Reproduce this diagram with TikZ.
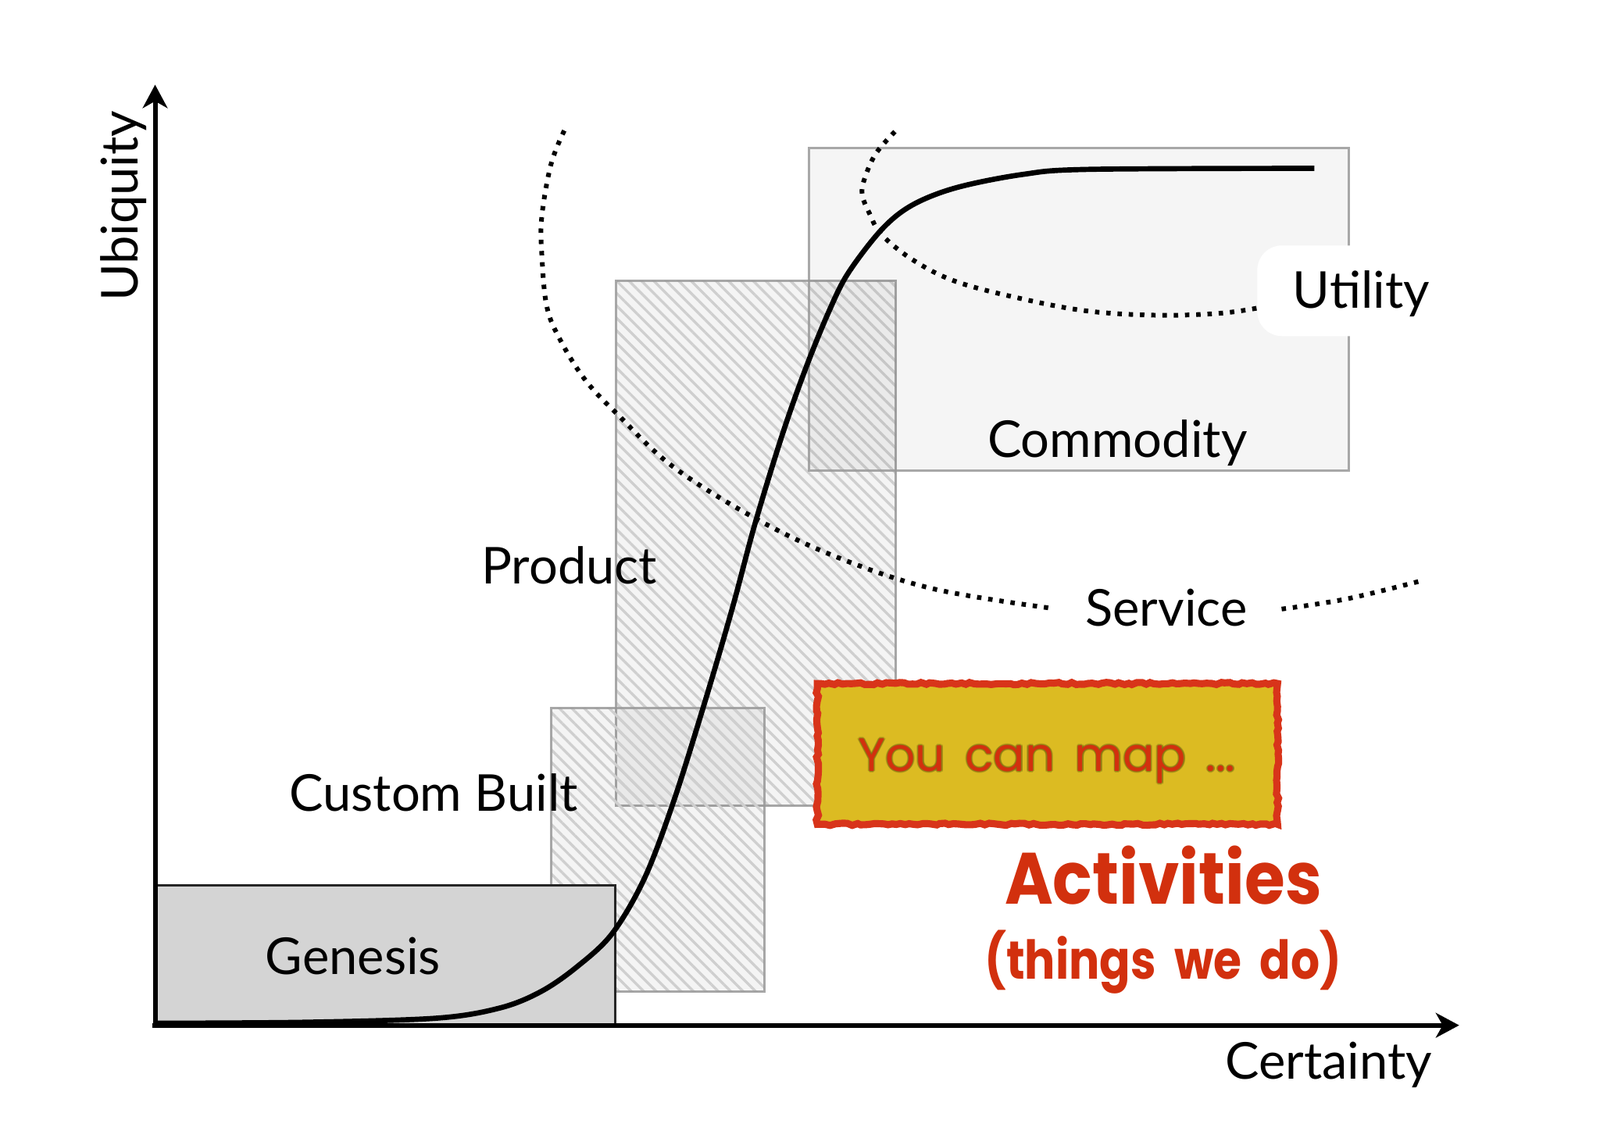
\documentclass[tikz,border=0pt]{standalone}
\usepackage{fontspec}
\setmainfont{Lato}
\newfontfamily\comicfont[WordSpace=1.6]{Poppins}
\newfontfamily\comicnarrow[FakeStretch=0.9]{Poppins}
\newfontfamily\comicthings[FakeStretch=0.85,WordSpace=1.9]{Poppins}
\usetikzlibrary{arrows.meta,patterns.meta,decorations.pathmorphing}
\definecolor{boxedge}{HTML}{999999}
\definecolor{hatch}{HTML}{CFCFCF}
\definecolor{genfill}{HTML}{D4D4D4}
\definecolor{ybox}{HTML}{DCBB22}
\definecolor{redtxt}{HTML}{D2300E}
\definecolor{boxred}{HTML}{D8341A}
\definecolor{glow}{HTML}{7A6A10}
\begin{document}
\begin{tikzpicture}[x=0.013061cm,y=-0.013061cm,
  lbl/.style={font=\fontsize{18.5}{22}\selectfont, inner sep=0pt, anchor=base},
  softfill/.style={fill=black, fill opacity=0.045},
  hatchfill/.style={pattern={Lines[angle=-45,distance=3.2pt,line width=0.95pt]}, pattern color=hatch},
  boxline/.style={draw=boxedge, line width=0.9pt, draw opacity=0.85},
  axis/.style={line width=1.7pt, -{Stealth[length=8.5pt,width=9pt,inset=2.5pt]}},
  scurve/.style={line width=1.9pt},
  dotline/.style={line width=1.7pt, dash pattern=on 1.6pt off 2.5pt},
  redlbl/.style={text=redtxt, inner sep=0pt, anchor=base},
  maptext/.style={inner sep=0pt, anchor=base, font=\comicfont\fontsize{17}{20}\selectfont}]
\useasboundingbox (0,0) rectangle (1568,1108);

% Product box
\path[softfill] (604,275) rectangle (878,790);
\path[hatchfill] (604,275) rectangle (878,790);
\path[boxline] (604,275) rectangle (878,790);
% Custom built box
\path[softfill] (540,694) rectangle (749,972);
\path[hatchfill] (540,694) rectangle (749,972);
\path[boxline] (540,694) rectangle (749,972);
% Commodity box
\path[fill=black, fill opacity=0.04] (793,145) rectangle (1322,461);
\path[boxline] (793,145) rectangle (1322,461);
% Genesis box
\draw[fill=genfill, draw=black!85, line width=1pt] (152,868) rectangle (603,1005);

% dotted boundaries
\draw[dotline] plot[smooth, tension=0.6] coordinates {(553,128) (540,161) (531,212) (531,250) (536,301) (550,335) (574,373) (605,406) (659,457) (740,508) (820,546) (914,577) (1029,596)};
\draw[dotline] plot[smooth, tension=0.6] coordinates {(1256,597) (1320,587) (1394,569)};
\draw[dotline] plot[smooth, tension=0.6] coordinates {(877,129) (858,151) (847,176) (845,191) (852,209) (864,230) (895,255) (937,276) (1002,293) (1067,305) (1136,309) (1196,307) (1232,302)};

% Utility background
\node (utilbg) [fill=white, rounded corners=9pt, minimum width=2.19cm, minimum height=1.16cm, inner sep=0pt] at (1316,285) {};

% evolution curve
\draw[scurve] plot[smooth, tension=0.55] coordinates {(152,1003) (300,1002) (428,998) (490,988) (530,972) (565,948) (600,915) (632,860) (661,783) (692,684) (718,595) (740,513) (767,425) (790,360) (812,306) (831,268) (864,225) (894,201) (937,184) (1002,171) (1067,166) (1288,165)};

% axes
\coordinate (O) at (152,1005);
\coordinate (ytip) at (152,83);
\coordinate (xtip) at (1430,1005);
\coordinate (xstart) at (149,1005);
\draw[axis] (O) -- (ytip);
\draw[axis] (xstart) -- (xtip);

% labels
\node[lbl, rotate=90] (ubiq) at (135,202) {Ubiquity};
\node[lbl] (cert) at (1302,1058) {Certainty};
\node[lbl] (gen) at (346,955) {Genesis};
\node[lbl] (cust) at (425,795) {Custom Built};
\node[lbl] (prod) at (558,572) {Product};
\node[lbl] (comm) at (1095,448) {Commodity};
\node[lbl] (serv) at (1143,614) {Service};
\node[lbl] (util) at (1334,302) {Utility};

% yellow box
\draw[fill=ybox, draw=boxred, line width=2.6pt, decorate, decoration={random steps, segment length=1.6pt, amplitude=0.4pt}] (801,670) rectangle (1252,808);
\foreach \dx/\dy in {-1.5/0,1.5/0,0/-1.5,0/1.5,-1/-1,1/1,-1/1,1/-1}
  \node[maptext, text=glow, text opacity=0.35] at (1026+\dx,756+\dy) {You can map ...};
\node[maptext, text=redtxt] (map) at (1026,756) {You can map ...};
\node[redlbl, font=\comicnarrow\bfseries\fontsize{26.5}{30}\selectfont] (act) at (1140,886) {Activities};
\node[redlbl, font=\comicthings\bfseries\fontsize{19.5}{24}\selectfont] (things) at (1140,960) {(things we do)};
\end{tikzpicture}
\end{document}
